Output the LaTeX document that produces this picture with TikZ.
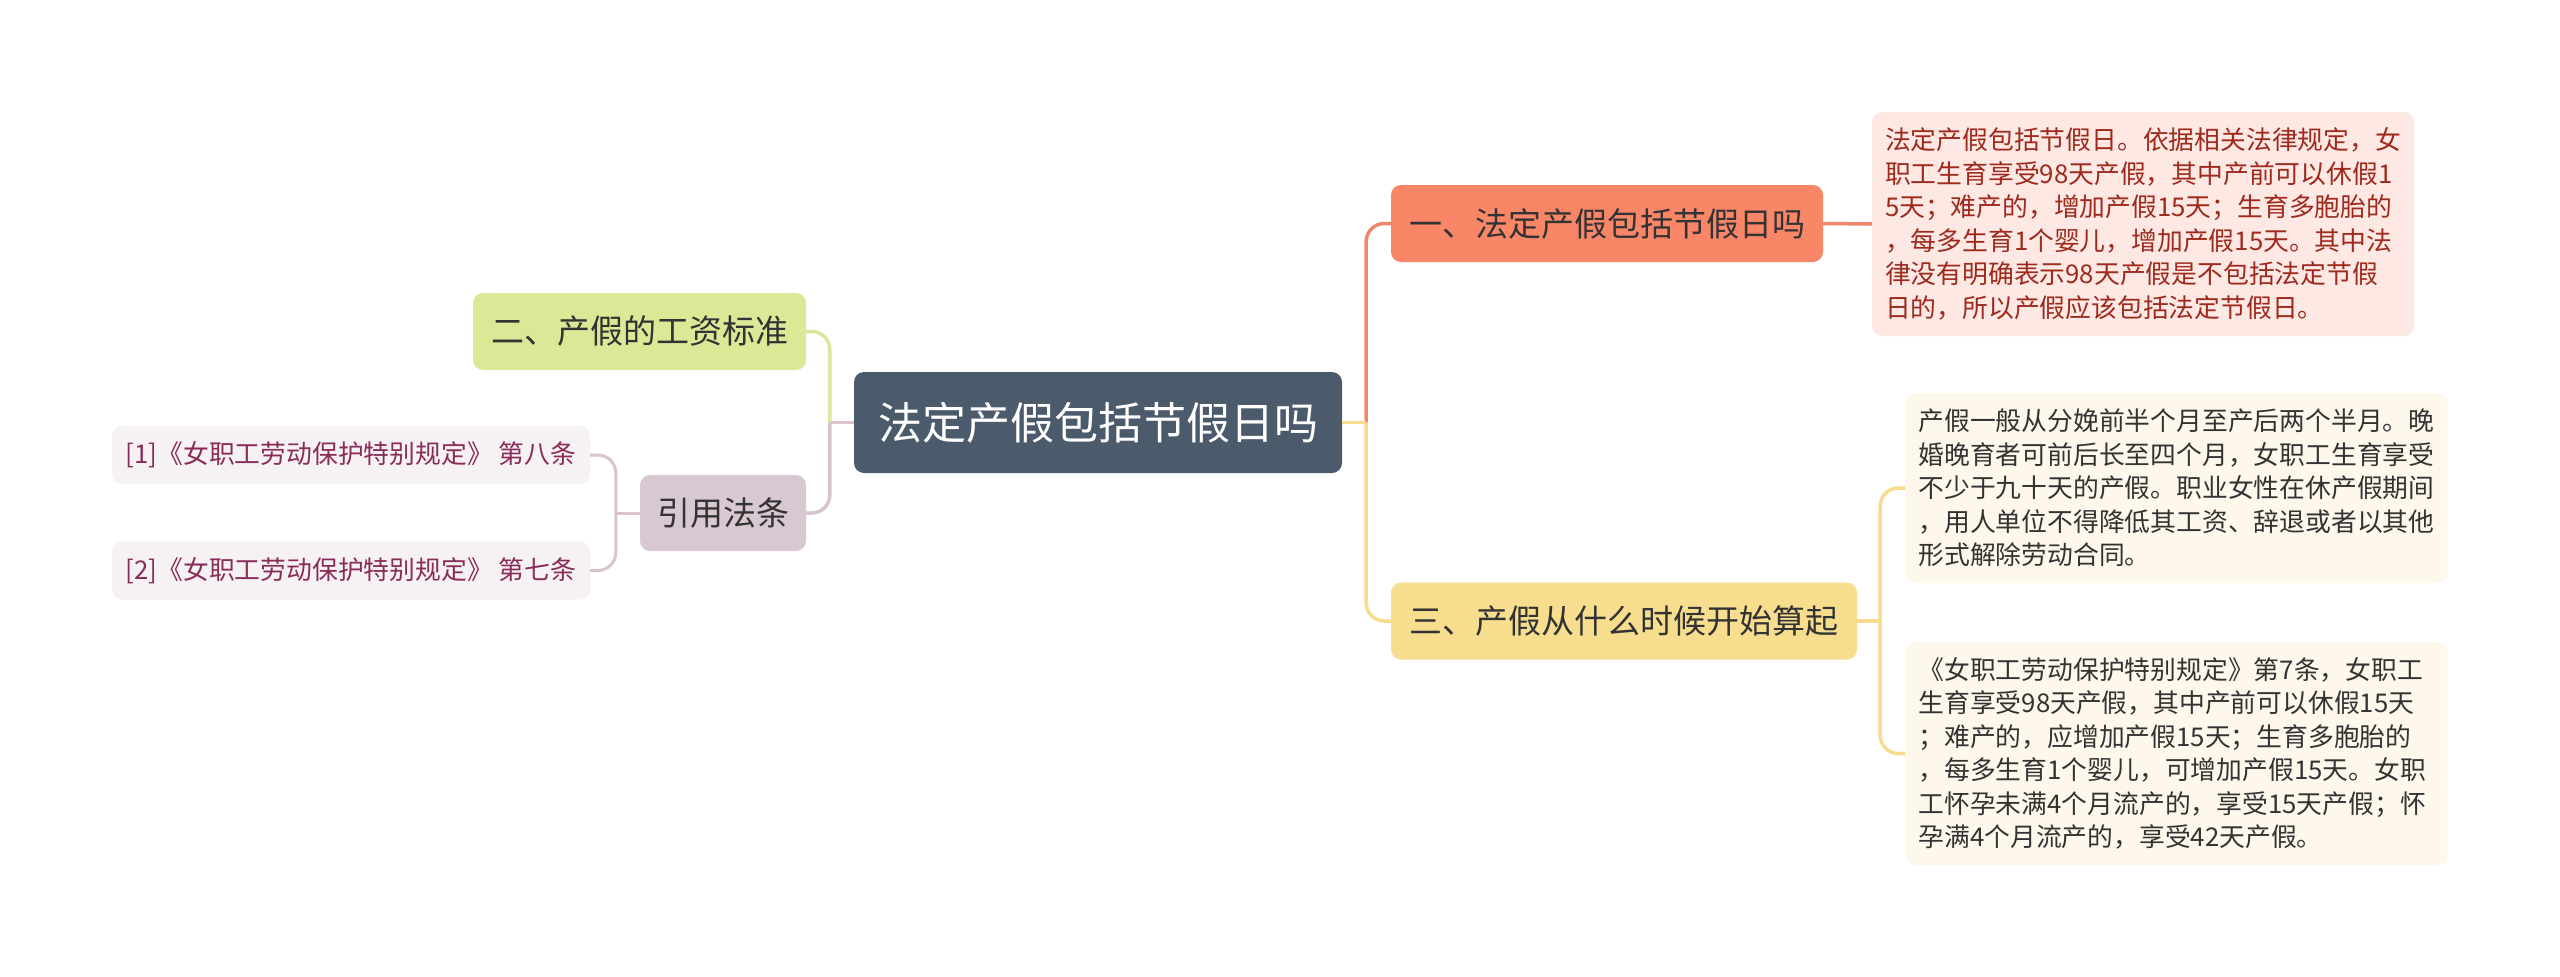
\documentclass[tikz,border=0pt]{standalone}
\usepackage{fontspec}
\setmainfont{Noto Sans CJK SC}
\usetikzlibrary{calc}
\definecolor{cCentral}{HTML}{4C5B6B}
\definecolor{cOneFill}{HTML}{FA8668}
\definecolor{cOneLine}{HTML}{EE876B}
\definecolor{cOneBox}{HTML}{FDE8E3}
\definecolor{cOneText}{HTML}{9E2A1E}
\definecolor{cThreeFill}{HTML}{F7DE8E}
\definecolor{cThreeLine}{HTML}{F5DC8F}
\definecolor{cThreeBox}{HTML}{FDF8EB}
\definecolor{cTwoFill}{HTML}{DCE896}
\definecolor{cTwoLine}{HTML}{DCE79E}
\definecolor{cCiteFill}{HTML}{D8C8D1}
\definecolor{cCiteLine}{HTML}{D8C3CE}
\definecolor{cRefFill}{HTML}{F6F1F3}
\definecolor{cRefText}{HTML}{8A2C5A}
\definecolor{cDark}{HTML}{333333}
\begin{document}
\begin{tikzpicture}[x=1pt,y=-1pt,
  base/.style={rounded corners=10pt, inner sep=0pt, align=center},
  topic/.style={base, text=cDark, minimum height=77pt, font=\fontsize{33}{40}\selectfont},
  refnode/.style={base, fill=cRefFill, text=cRefText, minimum width=478pt, minimum height=58pt, font=\fontsize{25.8}{32}\selectfont},
  detail/.style={rounded corners=10pt, inner xsep=13pt, inner ysep=0pt, text width=516pt, align=left, font=\fontsize{25.8}{33.5}\selectfont},
  conn/.style={line width=3.5pt, rounded corners=18pt}
]
\fill[white] (0,0) rectangle (2560,977);
\useasboundingbox (0,0) rectangle (2560,977);

% nodes
\node[base, fill=cCentral, text=white, minimum width=488pt, minimum height=101pt, font=\fontsize{44}{52}\selectfont] (c) at (1098,422.5) {法定产假包括节假日吗};
\node[topic, fill=cOneFill, minimum width=432pt] (n1) at (1607,223.5) {一、法定产假包括节假日吗};
\node[topic, fill=cThreeFill, minimum width=466pt] (n3) at (1624,621) {三、产假从什么时候开始算起};
\node[topic, fill=cTwoFill, minimum width=333pt] (n2) at (639.5,331.5) {二、产假的工资标准};
\node[topic, fill=cCiteFill, minimum width=166pt, minimum height=76pt] (cite) at (723,513) {引用法条};
\node[refnode] (r1) at (351,455) {[1]《女职工劳动保护特别规定》 第八条};
\node[refnode] (r2) at (351,570.5) {[2]《女职工劳动保护特别规定》 第七条};

\node[detail, fill=cOneBox, text=cOneText, minimum height=224pt] (b1) at (2143,224) {法定产假包括节假日。依据相关法律规定，女\\职工生育享受98天产假，其中产前可以休假1\\5天；难产的，增加产假15天；生育多胞胎的\\，每多生育1个婴儿，增加产假15天。其中法\\律没有明确表示98天产假是不包括法定节假\\日的，所以产假应该包括法定节假日。};
\node[detail, fill=cThreeBox, text=cDark, minimum height=190pt] (b2) at (2176.5,488) {产假一般从分娩前半个月至产后两个半月。晚\\婚晚育者可前后长至四个月，女职工生育享受\\不少于九十天的产假。职业女性在休产假期间\\，用人单位不得降低其工资、辞退或者以其他\\形式解除劳动合同。};
\node[detail, fill=cThreeBox, text=cDark, minimum height=223pt] (b3) at (2176.5,753.5) {《女职工劳动保护特别规定》第7条，女职工\\生育享受98天产假，其中产前可以休假15天\\；难产的，应增加产假15天；生育多胞胎的\\，每多生育1个婴儿，可增加产假15天。女职\\工怀孕未满4个月流产的，享受15天产假；怀\\孕满4个月流产的，享受42天产假。};

% junctions
\coordinate (jR) at ([xshift=24pt]c.east);
\coordinate (jL) at ([xshift=-24pt]c.west);
\coordinate (j3) at ([xshift=23pt]n3.east);
\coordinate (jC) at ([xshift=-24pt]cite.west);

% right side connectors
\draw[conn, cOneLine] (jR) |- (n1.west);
\draw[conn, cThreeLine] (jR) |- (n3.west);
\draw[conn, cThreeLine, rounded corners=0pt] (c.east) -- (jR);
\draw[conn, cOneLine] (n1.east) -- (b1.west);
\draw[conn, cThreeLine] (n3.east) -- (j3);
\draw[conn, cThreeLine] (j3) |- (b2.west);
\draw[conn, cThreeLine] (j3) |- (b3.west);

% left side connectors
\draw[conn, cTwoLine] (jL) |- (n2.east);
\draw[conn, cCiteLine] (jL) |- (cite.east);
\draw[conn, cCiteLine, rounded corners=0pt] (c.west) -- (jL);
\draw[conn, cCiteLine, line width=3pt] (cite.west) -- (jC);
\draw[conn, cCiteLine, line width=3pt] (jC) |- (r1.east);
\draw[conn, cCiteLine, line width=3pt] (jC) |- (r2.east);
\end{tikzpicture}
\end{document}
